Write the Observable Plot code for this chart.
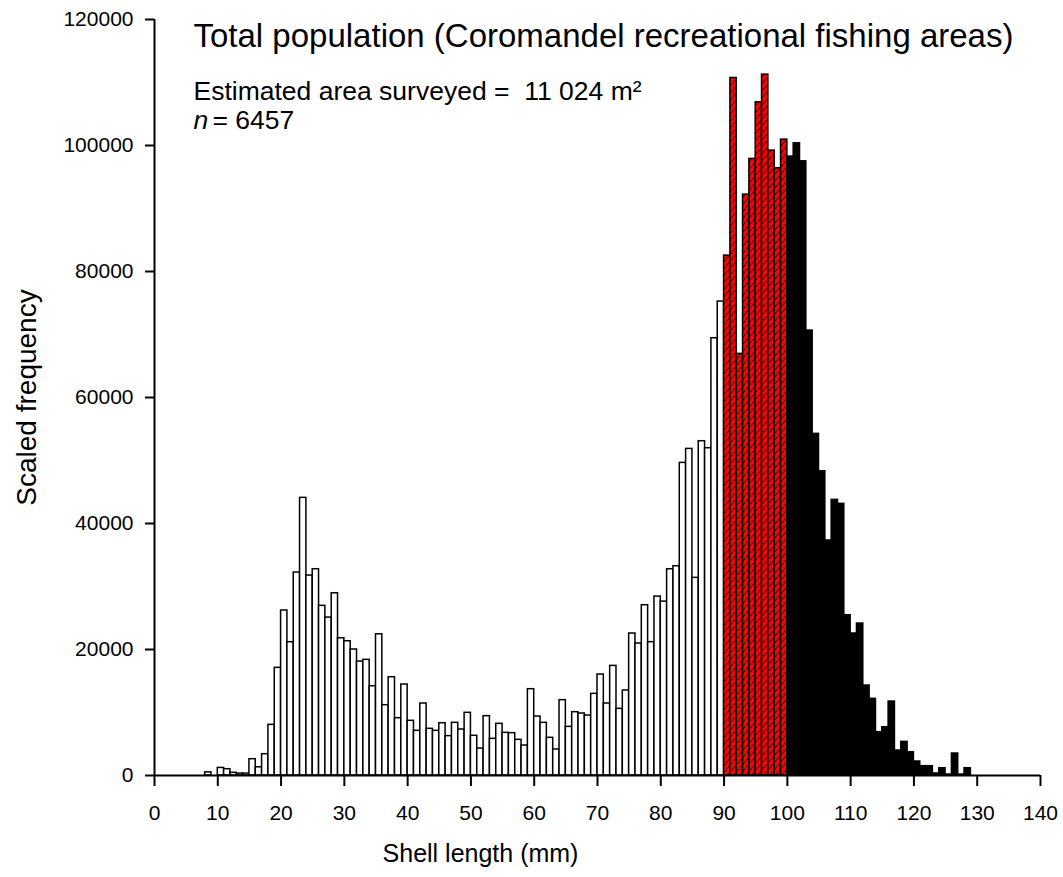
<!DOCTYPE html>
<html>
<head>
<meta charset="utf-8">
<script src="https://cdn.jsdelivr.net/npm/d3@7"></script>
<script src="https://cdn.jsdelivr.net/npm/@observablehq/plot@0.6"></script>
<style>
  html, body { margin: 0; padding: 0; background: #ffffff; }
  svg { display: block; }
</style>
</head>
<body>
<div id="chart"></div>
<script>
// Shell-length classes (mm, lower bound of each 1 mm bin)
const lengths = [
  8, 9, 10, 11, 12, 13, 14, 15, 16, 17, 18, 19,
  20, 21, 22, 23, 24, 25, 26, 27, 28, 29,
  30, 31, 32, 33, 34, 35, 36, 37, 38, 39,
  40, 41, 42, 43, 44, 45, 46, 47, 48, 49,
  50, 51, 52, 53, 54, 55, 56, 57, 58, 59,
  60, 61, 62, 63, 64, 65, 66, 67, 68, 69,
  70, 71, 72, 73, 74, 75, 76, 77, 78, 79,
  80, 81, 82, 83, 84, 85, 86, 87, 88, 89,
  90, 91, 92, 93, 94, 95, 96, 97, 98, 99,
  100, 101, 102, 103, 104, 105, 106, 107, 108, 109,
  110, 111, 112, 113, 114, 115, 116, 117, 118, 119,
  120, 121, 122, 123, 124, 125, 126, 127, 128
];
// Scaled frequency per bin
const frequency = [
  500, 0, 1200, 1000, 430, 300, 300, 2590, 1300, 3380, 8040, 17090,
  26190, 21160, 32220, 44070, 31740, 32740, 26930, 25070, 28930, 21790,
  21310, 20000, 18090, 18360, 14170, 22420, 11160, 15600, 9100, 14440,
  8680, 7090, 11430, 7410, 7090, 8300, 6250, 8360, 7300, 9950,
  6300, 4280, 9420, 5820, 8200, 6770, 6720, 5660, 4760, 13700,
  9360, 8360, 5980, 4130, 11960, 7720, 10050, 9840, 9520, 12960,
  16030, 11430, 17400, 10580, 13490, 22540, 20950, 27030, 21160, 28400,
  27600, 32740, 33220, 49620, 51840, 31370, 53060, 51950, 69400, 75230,
  82520, 110720, 66920, 92200, 97870, 106850, 111250, 99190, 96380, 100930,
  98240, 100350, 97490, 70620, 54230, 48300, 37300, 43750, 43120, 25440,
  22540, 24120, 14280, 12170, 6880, 7670, 11740, 3970, 5340, 3700,
  2220, 1480, 1480, 320, 1160, 150, 3490, 150, 1160
];
// Size-class breaks: below 90 mm, 90–99 mm (hatched red), 100 mm and over (black)
const classBreaks = [90, 100];
const classFills = ["white", "url(#hatch)", "black"];

const xTicks = [0, 10, 20, 30, 40, 50, 60, 70, 80, 90, 100, 110, 120, 130, 140];
const yTicks = [0, 20000, 40000, 60000, 80000, 100000, 120000];

const title = "Total population (Coromandel recreational fishing areas)";
const areaNote = "Estimated area surveyed =  11 024 m²";
const nLabel = "n";
const nValue = "= 6457";
const xTitle = "Shell length (mm)";
const yTitle = "Scaled frequency";

const bins = lengths.map((l, i) => ({
  x1: l, x2: l + 1, y: frequency[i],
  cls: l < classBreaks[0] ? 0 : (l < classBreaks[1] ? 1 : 2)
}));

const font = "Arial, 'Liberation Sans', Helvetica, sans-serif";

const chart = Plot.plot({
  width: 1063,
  height: 877,
  marginLeft: 154,
  marginRight: 23,
  marginTop: 19,
  marginBottom: 102,
  style: { fontFamily: font, fontSize: "21px", color: "black", background: "white" },
  x: {
    domain: [0, 140],
    ticks: xTicks,
    tickSize: 11,
    tickPadding: 19,
    tickFormat: d3.format("d"),
    label: null
  },
  y: {
    domain: [0, 120000],
    ticks: yTicks,
    tickSize: 9,
    tickPadding: 12,
    tickFormat: d3.format("d"),
    label: null
  },
  marks: [
    Plot.rectY(bins.filter(d => d.cls === 0), {x1: "x1", x2: "x2", y: "y", fill: classFills[0], stroke: "black", strokeWidth: 1.5}),
    Plot.rectY(bins.filter(d => d.cls === 1), {x1: "x1", x2: "x2", y: "y", fill: classFills[1], stroke: "black", strokeWidth: 1.5}),
    Plot.rectY(bins.filter(d => d.cls === 2), {x1: "x1", x2: "x2", y: "y", fill: classFills[2], stroke: "black", strokeWidth: 1.5}),
    Plot.ruleX([0], {y1: 0, y2: 120000, stroke: "black", strokeWidth: 2}),
    Plot.ruleY([0], {x1: 0, x2: 140, stroke: "black", strokeWidth: 2}),
    Plot.text([title], {text: d => d, frameAnchor: "top-left", dx: 39, dy: 27, lineAnchor: "bottom", textAnchor: "start", fontSize: 33}),
    Plot.text([areaNote], {text: d => d, frameAnchor: "top-left", dx: 39, dy: 80, lineAnchor: "bottom", textAnchor: "start", fontSize: 26.5}),
    Plot.text([nLabel], {text: d => d, frameAnchor: "top-left", dx: 39, dy: 109, lineAnchor: "bottom", textAnchor: "start", fontSize: 26.5, fontStyle: "italic"}),
    Plot.text([nValue], {text: d => d, frameAnchor: "top-left", dx: 58, dy: 109, lineAnchor: "bottom", textAnchor: "start", fontSize: 26.5}),
    Plot.text([xTitle], {text: d => d, frameAnchor: "bottom-left", dx: 326, dy: 86, lineAnchor: "bottom", textAnchor: "middle", fontSize: 25}),
    Plot.text([yTitle], {text: d => d, frameAnchor: "left", dx: -127, rotate: -90, lineAnchor: "middle", textAnchor: "middle", fontSize: 28})
  ]
});

// hatch pattern for the 90–99 mm bars
const sel = d3.select(chart);
const defs = sel.insert("defs", ":first-child");
const pat = defs.append("pattern")
  .attr("id", "hatch")
  .attr("patternUnits", "userSpaceOnUse")
  .attr("width", 6)
  .attr("height", 7);
pat.append("rect").attr("width", 6).attr("height", 7).attr("fill", "#ff0000");
pat.append("path")
  .attr("d", "M0,7 L6,0 M-1,1.17 L1,-1.17 M5,8.17 L7,5.83")
  .attr("stroke", "black")
  .attr("stroke-width", 0.9)
  .attr("fill", "none");

// heavier tick strokes like the original
sel.selectAll("g[aria-label='x-axis tick'] path, g[aria-label='y-axis tick'] path").attr("stroke-width", 2);

document.getElementById("chart").appendChild(chart);
</script>
</body>
</html>
